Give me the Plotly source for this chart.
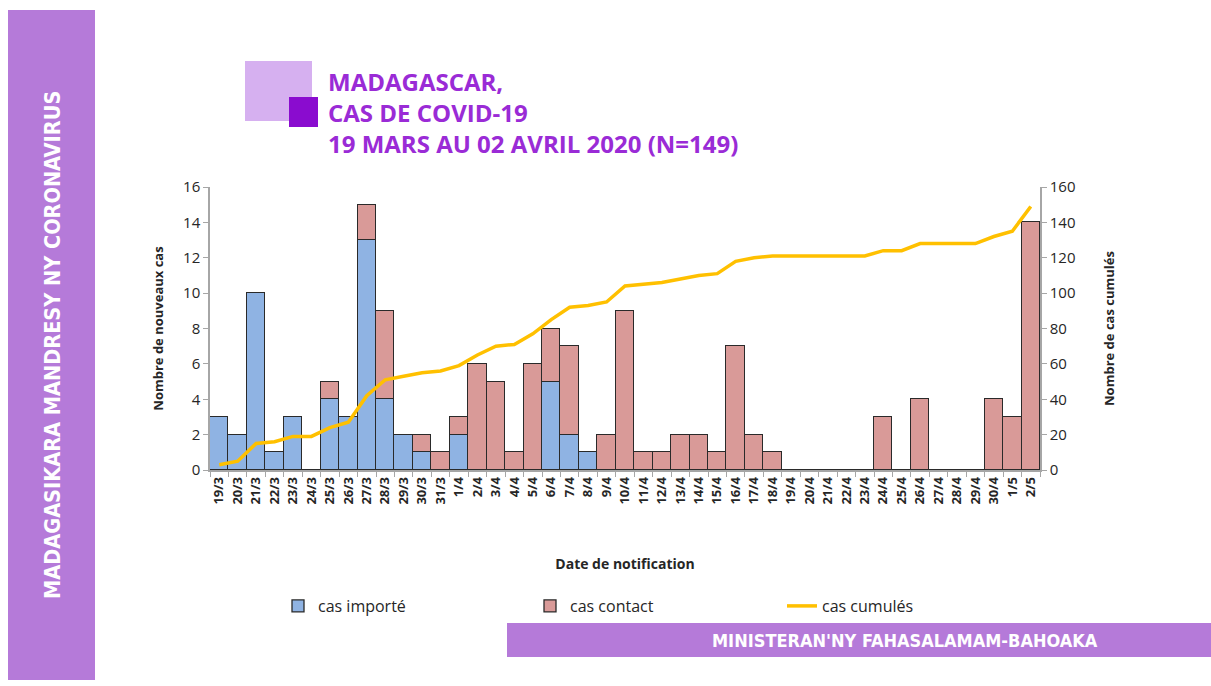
import plotly.graph_objects as go

categories = ["19/3","20/3","21/3","22/3","23/3","24/3","25/3","26/3","27/3","28/3","29/3","30/3","31/3",
              "1/4","2/4","3/4","4/4","5/4","6/4","7/4","8/4","9/4","10/4","11/4","12/4","13/4","14/4","15/4",
              "16/4","17/4","18/4","19/4","20/4","21/4","22/4","23/4","24/4","25/4","26/4","27/4","28/4","29/4",
              "30/4","1/5","2/5"]
cas_importe = [3,2,10,1,3,0,4,3,13,4,2,1,0,
               2,0,0,0,0,5,2,1,0,0,0,0,0,0,0,
               0,0,0,0,0,0,0,0,0,0,0,0,0,0,
               0,0,0]
cas_contact = [0,0,0,0,0,0,1,0,2,5,0,1,1,
               1,6,5,1,6,3,5,0,2,9,1,1,2,2,1,
               7,2,1,0,0,0,0,0,3,0,4,0,0,0,
               4,3,14]
cas_cumules = [3,5,15,16,19,19,24,27,42,51,53,55,56,
               59,65,70,71,77,85,92,93,95,104,105,106,108,110,111,
               118,120,121,121,121,121,121,121,124,124,128,128,128,128,
               132,135,149]

W, H = 1211, 686
def px(x): return x / W
def py(y): return 1 - y / H

PURPLE_BANNER = "#B57AD9"
TITLE_PURPLE = "#9A2BD6"
AXIS_GREY = "#A6A6A6"
TEXT_DARK = "#262626"
NARROW = "Liberation Sans Narrow, Arial Narrow, DejaVu Sans Condensed, sans-serif"

fig = go.Figure()
fig.add_trace(go.Bar(x=categories, y=cas_importe, name="cas importé",
                     marker=dict(color="#8FB3E3", line=dict(color="#2A2A2A", width=1.3))))
fig.add_trace(go.Bar(x=categories, y=cas_contact, name="cas contact",
                     marker=dict(color="#D99A98", line=dict(color="#2A2A2A", width=1.3))))
fig.add_trace(go.Scatter(x=categories, y=cas_cumules, name="cas cumulés", mode="lines",
                         line=dict(color="#FFC000", width=3.5), yaxis="y2"))

x0, x1 = px(210), px(1040)
y0, y1 = py(470), py(187)

fig.update_layout(
    width=W, height=H,
    margin=dict(l=0, r=0, t=0, b=0, autoexpand=False),
    paper_bgcolor="white", plot_bgcolor="white",
    barmode="stack", bargap=0,
    font=dict(family="Open Sans, Liberation Sans, sans-serif", color=TEXT_DARK),
    showlegend=True,
    legend=dict(orientation="h", x=px(278), y=py(606), xanchor="left", yanchor="middle",
                traceorder="normal",
                entrywidth=207, entrywidthmode="pixels",
                font=dict(size=16, color=TEXT_DARK, family="Open Sans, sans-serif"),
                bgcolor="rgba(0,0,0,0)", itemwidth=30),
    xaxis=dict(domain=[x0, x1], type="category", tickangle=-90, automargin=False,
               tickfont=dict(size=13, color=TEXT_DARK, family="Open Sans, sans-serif", weight="bold"),
               showline=True, linecolor=AXIS_GREY, linewidth=1.5,
               ticks="outside", tickcolor=AXIS_GREY, ticklen=5, tickson="boundaries",
               showgrid=False, zeroline=False,
               title=dict(text="<b>Date de notification</b>", font=dict(size=14, color=TEXT_DARK),
                          standoff=56)),
    yaxis=dict(domain=[y0, y1], range=[0, 16], dtick=2, automargin=False,
               tickfont=dict(size=15, color=TEXT_DARK),
               showline=True, linecolor=AXIS_GREY, linewidth=1.5,
               ticks="outside", tickcolor=AXIS_GREY, ticklen=5,
               showgrid=False, zeroline=False,
               title=dict(text="<b>Nombre de nouveaux cas</b>", font=dict(size=13, color=TEXT_DARK),
                          standoff=17)),
    yaxis2=dict(overlaying="y", side="right", anchor="x", range=[0, 160], dtick=20, automargin=False,
                tickfont=dict(size=15, color=TEXT_DARK),
                showline=True, linecolor=AXIS_GREY, linewidth=1.5,
                ticks="outside", tickcolor=AXIS_GREY, ticklen=5,
                showgrid=False, zeroline=False,
                title=dict(text="<b>Nombre de cas cumulés</b>", font=dict(size=13, color=TEXT_DARK),
                           standoff=30)),
)

shapes = [
    dict(type="rect", xref="paper", yref="paper", x0=px(8), x1=px(95), y0=py(680), y1=py(10),
         fillcolor=PURPLE_BANNER, line=dict(width=0), layer="below"),
    dict(type="rect", xref="paper", yref="paper", x0=px(507), x1=px(1211), y0=py(657), y1=py(623),
         fillcolor=PURPLE_BANNER, line=dict(width=0), layer="below"),
    dict(type="rect", xref="paper", yref="paper", x0=px(245), x1=px(312), y0=py(121), y1=py(61),
         fillcolor="#D6B0F0", line=dict(width=0), layer="below"),
    dict(type="rect", xref="paper", yref="paper", x0=px(289), x1=px(318), y0=py(127), y1=py(97),
         fillcolor="#8A0CCF", line=dict(width=0), layer="above"),
]
fig.update_layout(shapes=shapes)

annotations = [
    dict(text="<b>MADAGASIKARA MANDRESY NY CORONAVIRUS</b>", xref="paper", yref="paper",
         x=px(52), y=py(345), xanchor="center", yanchor="middle", showarrow=False, textangle=-90,
         font=dict(size=21.5, color="white", family=NARROW)),
    dict(text="<b>MINISTERAN'NY FAHASALAMAM-BAHOAKA</b>", xref="paper", yref="paper",
         x=px(905), y=py(640), xanchor="center", yanchor="middle", showarrow=False,
         font=dict(size=18, color="white", family=NARROW)),
    dict(text="<b>MADAGASCAR,<br>CAS DE COVID-19<br>19 MARS AU 02 AVRIL 2020 (N=149)</b>",
         xref="paper", yref="paper", x=px(326), y=py(63), xanchor="left", yanchor="top",
         align="left", showarrow=False,
         font=dict(size=24, color=TITLE_PURPLE, family="Open Sans, sans-serif")),
]
fig.update_layout(annotations=annotations)

fig.write_html("out.html", config={"displayModeBar": False},
               post_script="document.body.style.margin='0';")
